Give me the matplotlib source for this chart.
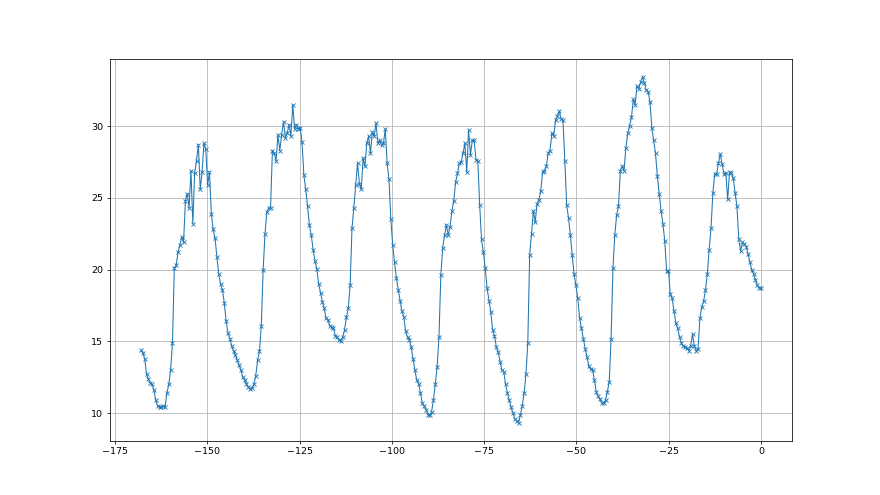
import numpy as np
import matplotlib
matplotlib.use("Agg")
import matplotlib.pyplot as plt

#Temperature readings, oldest first (roughly every half hour)
day1 = [14.4, 14.2, 13.8, 12.7, 12.4, 12.1, 12.0, 11.6, 10.9, 10.5, 10.45, 10.45, 10.5, 10.45,
        11.4, 12.0, 13.0, 14.9, 20.1, 20.3, 21.2, 21.7, 22.3, 21.9, 24.8, 25.3, 24.3, 26.9, 23.2,
        26.75, 27.6, 28.7, 25.6, 26.8, 28.8, 28.4, 25.9, 26.8, 23.9, 22.8, 22.2, 20.9, 19.7, 19.0,
        18.6, 17.7, 16.4, 15.6, 15.2, 14.7, 14.3, 14.06, 13.7, 13.35, 13.0, 12.5, 12.3, 12.05, 11.8]
day2 = [11.7, 11.75, 12.0, 12.6, 13.7, 14.3, 16.1, 20.0, 22.5, 24.0, 24.3, 24.3, 28.3, 28.1,
        27.6, 29.4, 28.3, 29.4, 30.3, 29.2, 29.5, 30.1, 29.3, 31.5, 29.8, 30.1, 29.8, 29.9, 28.9,
        26.6, 25.6, 24.4, 23.1, 22.4, 21.4, 20.6, 20.05, 19.0, 18.4, 17.75, 17.3, 16.6, 16.5, 16.1,
        16.0, 15.9, 15.4, 15.3, 15.1, 15.05, 15.3, 15.8, 16.7, 17.3, 18.9, 22.9, 24.3, 25.9, 27.4, 26.0]
day3 = [25.6, 27.75, 27.2, 28.8, 29.3, 28.1, 29.6, 29.3, 30.2, 28.8, 29.0, 28.7, 28.8, 29.8,
        27.4, 26.3, 23.5, 21.7, 20.5, 19.4, 18.6, 17.85, 17.1, 16.7, 15.7, 15.3, 15.1, 14.6,
        13.8, 13.0, 12.3, 12.05, 11.4, 10.7, 10.5, 10.25, 9.9, 9.85, 10.1, 10.9, 12.0, 13.2, 15.3,
        19.6, 21.5, 22.4, 23.1, 22.4, 23.0, 24.1, 24.8, 26.1, 26.7, 27.4, 27.5, 28.1, 28.8, 26.8, 29.7]
day4 = [28.0, 29.0, 29.0, 27.65, 27.55, 24.5, 22.1, 21.2, 20.1, 18.7, 17.85, 17.05, 15.8, 15.4,
        14.6, 14.25, 13.6, 13.0, 12.9, 12.0, 11.4, 10.9, 10.4, 10.0, 9.6, 9.45, 9.3, 9.9, 10.5,
        11.4, 12.7, 14.9, 21.0, 22.5, 24.1, 23.3, 24.6, 24.85, 25.5, 26.8, 26.9, 27.2, 28.1, 28.3,
        29.5, 29.3, 30.4, 30.7, 31.05, 30.5, 30.4, 27.6, 24.5, 23.6, 22.4, 21.0, 19.7, 18.9, 18.0]
day5 = [16.6, 15.9, 15.2, 14.5, 13.9, 13.28, 13.05, 13.0, 12.3, 11.45, 11.2, 10.96, 10.7, 10.7,
        10.9, 11.5, 12.2, 15.2, 20.1, 22.4, 23.8, 24.4, 26.9, 27.2, 26.9, 28.5, 29.5, 30.0, 30.6,
        31.86, 31.5, 32.8, 32.6, 33.1, 33.44, 33.0, 32.5, 32.4, 31.7, 29.9, 29.0, 28.1, 26.5, 25.3,
        24.1, 23.2, 22.0, 19.9, 19.9, 18.3, 18.0, 17.1, 16.25, 15.9, 15.3, 14.9, 14.7]
day6 = [14.6, 14.57, 14.34, 14.67, 15.5, 14.67, 14.34, 14.5, 16.6, 17.4, 17.8, 18.57, 19.7, 21.4,
        22.9, 25.35, 26.66, 26.66, 27.4, 28.05, 27.35, 26.66, 26.75, 24.9, 26.8, 26.7, 26.4, 25.35,
        24.4, 22.1, 21.3, 21.9, 21.8, 21.6, 21.1, 20.5, 20.0, 19.7, 19.3, 18.9, 18.73, 18.7]

temp = np.array(day1 + day2 + day3 + day4 + day5 + day6)

#Hours before the last reading, spread evenly over one week
hours = np.linspace(-168, 0, len(temp))

#Same size as the reference image (880x495)
fig = plt.figure(figsize=(12.8, 7.2), dpi=68.75)
plt.plot(hours, temp, marker="x", linewidth=1.1, markersize=5, markeredgewidth=0.9)
plt.grid(True)

fig.savefig("out.png", dpi=68.75)
